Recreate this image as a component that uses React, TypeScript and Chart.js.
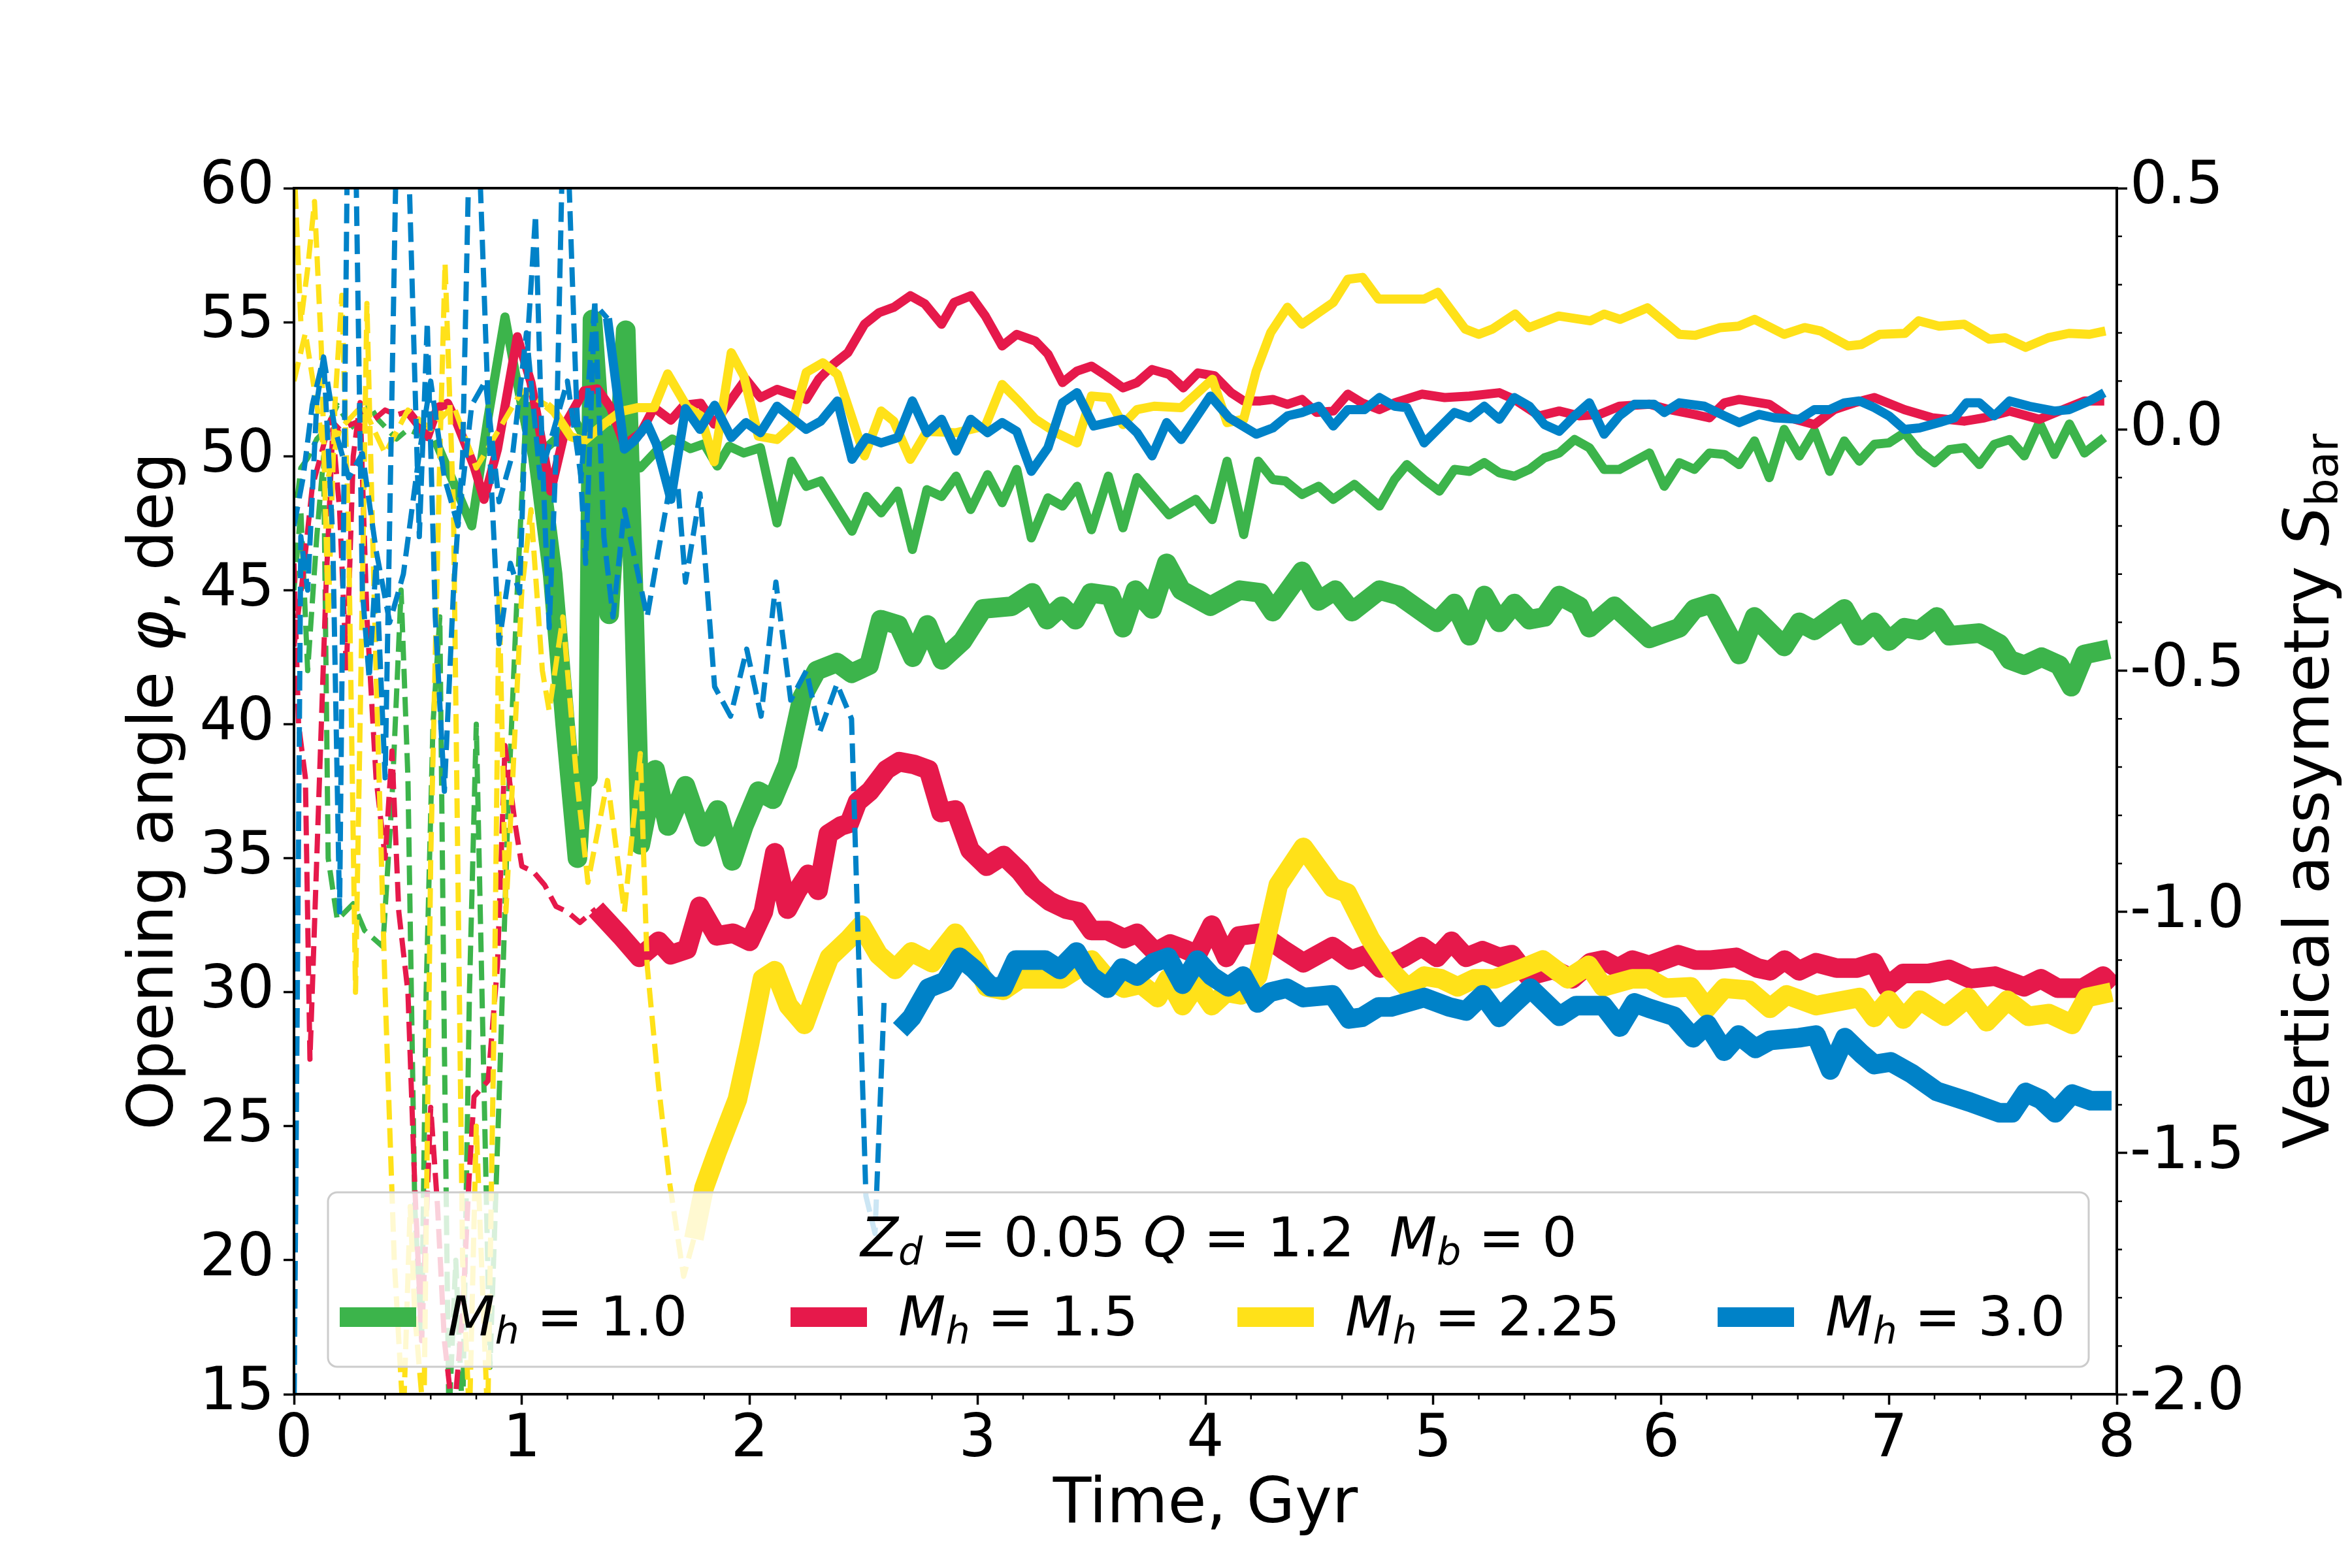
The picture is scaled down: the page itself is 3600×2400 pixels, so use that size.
import { useEffect, useRef } from 'react'
import { Chart, registerables } from 'chart.js'

Chart.register(...registerables)

// ---- data (time in Gyr) ----
// phi = opening angle (left axis), S = vertical asymmetry S_bar (right axis)
// "Dash" series are the early-time parts drawn with a thin dashed line

const MH_LABELS = ['1.0', '1.5', '2.25', '3.0']
const COLORS = ['#3cb44b', '#e6194b', '#ffe119', '#0082c8']

// M_h = 1.0 (green)
const G_PHI_DASH_T = [0, 0.03, 0.06, 0.1, 0.13, 0.15, 0.19, 0.26, 0.31, 0.39,
  0.43, 0.47, 0.5, 0.53, 0.56, 0.58, 0.61, 0.64, 0.66, 0.68,
  0.71, 0.74, 0.77, 0.8, 0.83, 0.86, 0.9, 0.94, 0.98, 1.02]
const G_PHI_DASH = [45, 48, 42, 47, 50, 35, 32.7, 33.3, 32.3, 31.7,
  37.2, 45, 38, 22, 17, 30, 40, 44, 28, 14,
  20, 14, 30, 40, 28, 16, 26, 37, 45, 52]
const G_PHI_T = [1.02, 1.07, 1.135, 1.19, 1.244, 1.27, 1.29, 1.31, 1.35, 1.383,
  1.42, 1.456, 1.49, 1.52, 1.585, 1.641, 1.718, 1.795, 1.859, 1.923,
  1.974, 2.038, 2.102, 2.166, 2.23, 2.294, 2.383, 2.447, 2.524, 2.575,
  2.652, 2.716, 2.78, 2.844, 2.934, 3.024, 3.15, 3.24, 3.305, 3.37,
  3.43, 3.497, 3.583, 3.638, 3.693, 3.766, 3.83, 3.894, 4.022, 4.15,
  4.241, 4.296, 4.424, 4.497, 4.57, 4.644, 4.764, 4.85, 5.016, 5.093,
  5.159, 5.224, 5.29, 5.356, 5.422, 5.488, 5.553, 5.641, 5.685, 5.795,
  5.949, 6.08, 6.146, 6.223, 6.343, 6.41, 6.54, 6.607, 6.673, 6.804,
  6.87, 6.936, 7.0, 7.068, 7.134, 7.21, 7.265, 7.397, 7.485, 7.53,
  7.594, 7.67, 7.748, 7.8, 7.858, 7.967]
const G_PHI = [52, 50, 45.6, 40, 35.0, 38.5, 38, 55.1, 50, 44.1,
  49, 54.7, 45, 35.5, 38.3, 36.2, 37.7, 35.8, 36.8, 34.9,
  36.2, 37.5, 37.2, 38.5, 41.0, 42.0, 42.3, 41.9, 42.2, 43.9,
  43.7, 42.5, 43.7, 42.4, 43.1, 44.3, 44.4, 44.9, 43.9, 44.4,
  43.9, 44.9, 44.8, 43.6, 45.0, 44.3, 46.0, 45.0, 44.4, 45.0,
  44.9, 44.2, 45.7, 44.6, 45.0, 44.2, 45.0, 44.8, 43.8, 44.5,
  43.3, 44.8, 43.8, 44.5, 43.9, 44.0, 44.8, 44.4, 43.6, 44.4,
  43.2, 43.6, 44.3, 44.5, 42.6, 44.0, 42.9, 43.8, 43.5, 44.3,
  43.3, 43.8, 43.1, 43.6, 43.5, 44.0, 43.3, 43.4, 43.0, 42.4,
  42.2, 42.5, 42.2, 41.4, 42.6, 42.8]
const G_S_DASH_T = [0, 0.03, 0.06, 0.1, 0.14, 0.19, 0.23, 0.27, 0.3, 0.33, 0.37, 0.41, 0.45, 0.5, 0.55, 0.62]
const G_S_DASH = [-0.2, -0.08, -0.06, -0.02, 0.0, 0.05, 0.02, 0.0, 0.03, 0.05, 0.02, 0.0, -0.02, 0.0, -0.01, -0.022]
const G_S_T = [0.62, 0.7, 0.78, 0.85, 0.926, 0.97, 1.02, 1.08, 1.15, 1.22,
  1.3, 1.38, 1.45, 1.52, 1.6, 1.66, 1.74, 1.8, 1.858, 1.91,
  1.974, 2.047, 2.12, 2.184, 2.248, 2.312, 2.449, 2.513, 2.577, 2.65,
  2.714, 2.778, 2.842, 2.906, 2.97, 3.044, 3.108, 3.172, 3.236, 3.309,
  3.373, 3.437, 3.5, 3.574, 3.638, 3.7, 3.84, 3.958, 4.03, 4.095,
  4.168, 4.232, 4.296, 4.351, 4.424, 4.497, 4.561, 4.654, 4.764, 4.83,
  4.884, 4.96, 5.027, 5.093, 5.159, 5.224, 5.29, 5.356, 5.422, 5.488,
  5.553, 5.62, 5.685, 5.75, 5.817, 5.949, 6.014, 6.08, 6.146, 6.212,
  6.278, 6.343, 6.41, 6.475, 6.54, 6.607, 6.673, 6.74, 6.804, 6.87,
  6.936, 7.0, 7.068, 7.134, 7.2, 7.265, 7.33, 7.397, 7.462, 7.53,
  7.594, 7.66, 7.726, 7.792, 7.858, 7.945]
const G_S = [-0.022, -0.11, -0.2, 0.02, 0.233, 0.12, 0.0, -0.05, -0.02, 0.03,
  -0.04, 0.0, -0.05, -0.08, -0.04, -0.02, -0.04, -0.03, -0.076, -0.035,
  -0.049, -0.038, -0.194, -0.066, -0.118, -0.107, -0.211, -0.139, -0.173, -0.128,
  -0.249, -0.125, -0.139, -0.097, -0.166, -0.094, -0.152, -0.083, -0.225, -0.142,
  -0.159, -0.118, -0.208, -0.097, -0.204, -0.1, -0.177, -0.145, -0.187, -0.066,
  -0.218, -0.066, -0.104, -0.107, -0.135, -0.118, -0.145, -0.114, -0.159, -0.104,
  -0.073, -0.104, -0.128, -0.083, -0.087, -0.069, -0.09, -0.097, -0.083, -0.059,
  -0.049, -0.021, -0.038, -0.083, -0.083, -0.049, -0.118, -0.069, -0.083, -0.049,
  -0.052, -0.073, -0.024, -0.1, 0.0, -0.055, -0.003, -0.087, -0.024, -0.066,
  -0.031, -0.028, -0.007, -0.045, -0.069, -0.042, -0.038, -0.073, -0.031, -0.021,
  -0.055, 0.014, -0.052, 0.011, -0.049, -0.017]

// M_h = 1.5 (red)
const R_PHI_DASH_T = [0, 0.02, 0.05, 0.07, 0.1, 0.14, 0.17, 0.2, 0.23, 0.26,
  0.29, 0.32, 0.36, 0.4, 0.43, 0.46, 0.5, 0.53, 0.56, 0.6,
  0.63, 0.66, 0.7, 0.74, 0.768, 0.79, 0.852, 0.893, 0.926, 0.97,
  1.0, 1.05, 1.1, 1.15, 1.2, 1.255, 1.31, 1.325]
const R_PHI_DASH = [46, 40, 38, 27.5, 35, 45, 51, 48, 42, 50,
  52, 44, 38, 35, 39, 33, 30, 22.8, 17, 25.7,
  22, 17, 14, 18, 23, 26.1, 26.7, 31, 39.2, 36.3,
  34.7, 34.5, 34, 33.2, 33, 32.6, 33.0, 33.1]
const R_PHI_T = [1.325, 1.434, 1.516, 1.6, 1.654, 1.725, 1.78, 1.855, 1.928, 2.0,
  2.06, 2.11, 2.166, 2.21, 2.257, 2.3, 2.345, 2.4, 2.437, 2.473,
  2.528, 2.6, 2.656, 2.72, 2.785, 2.84, 2.903, 2.967, 3.04, 3.114,
  3.187, 3.242, 3.315, 3.388, 3.443, 3.5, 3.57, 3.643, 3.7, 3.78,
  3.845, 3.909, 3.964, 4.028, 4.092, 4.147, 4.238, 4.339, 4.43, 4.558,
  4.64, 4.705, 4.768, 4.87, 4.95, 5.016, 5.08, 5.144, 5.216, 5.29,
  5.344, 5.417, 5.527, 5.61, 5.69, 5.746, 5.81, 5.874, 5.947, 6.075,
  6.15, 6.22, 6.33, 6.423, 6.478, 6.542, 6.606, 6.68, 6.77, 6.86,
  6.935, 6.99, 7.063, 7.173, 7.264, 7.356, 7.465, 7.593, 7.667, 7.74,
  7.85, 7.94, 7.986]
const R_PHI = [33.1, 32.1, 31.3, 31.9, 31.4, 31.6, 33.2, 32.1, 32.2, 31.9,
  33.0, 35.2, 33.1, 33.8, 34.4, 33.8, 35.9, 36.2, 36.3, 37.1,
  37.5, 38.3, 38.6, 38.5, 38.3, 36.7, 36.8, 35.3, 34.7, 35.1,
  34.5, 33.9, 33.4, 33.1, 33.0, 32.3, 32.3, 32.0, 32.2, 31.5,
  31.8, 31.6, 31.4, 32.5, 31.3, 32.1, 32.2, 31.6, 31.1, 31.7,
  31.2, 31.4, 30.9, 31.3, 31.7, 31.3, 31.9, 31.3, 31.55, 31.3,
  31.4, 30.6, 30.85, 30.5, 31.1, 31.2, 30.9, 31.2, 31.0, 31.4,
  31.2, 31.2, 31.3, 30.9, 30.8, 31.2, 30.8, 31.1, 30.9, 30.9,
  31.1, 30.2, 30.7, 30.7, 30.85, 30.5, 30.6, 30.2, 30.5, 30.15,
  30.15, 30.6, 30.2]
const R_S_DASH_T = [0, 0.04, 0.08, 0.12, 0.16, 0.2, 0.25, 0.3, 0.35, 0.4, 0.45, 0.5]
const R_S_DASH = [-0.45, -0.3, -0.12, -0.05, 0.02, 0.0, 0.01, 0.02, 0.02, 0.04, 0.03, 0.037]
const R_S_T = [0.5, 0.586, 0.63, 0.674, 0.717, 0.79, 0.834, 0.893, 0.98, 1.04,
  1.127, 1.2, 1.273, 1.332, 1.39, 1.45, 1.522, 1.58, 1.654, 1.712,
  1.785, 1.844, 1.919, 1.983, 2.047, 2.12, 2.184, 2.248, 2.303, 2.367,
  2.431, 2.504, 2.568, 2.632, 2.705, 2.769, 2.842, 2.897, 2.97, 3.034,
  3.108, 3.172, 3.254, 3.309, 3.373, 3.437, 3.5, 3.565, 3.638, 3.7,
  3.766, 3.84, 3.903, 3.967, 4.04, 4.113, 4.168, 4.241, 4.296, 4.36,
  4.424, 4.488, 4.561, 4.625, 4.687, 4.764, 4.83, 4.95, 5.05, 5.159,
  5.29, 5.356, 5.466, 5.553, 5.641, 5.73, 5.817, 5.949, 6.036, 6.146,
  6.212, 6.278, 6.343, 6.475, 6.563, 6.673, 6.76, 6.848, 6.936, 7.068,
  7.19, 7.33, 7.419, 7.53, 7.66, 7.748, 7.858, 7.945]
const R_S = [0.037, -0.015, 0.045, 0.054, 0.011, -0.076, -0.145, -0.041, 0.192, 0.097,
  -0.128, 0.019, 0.08, 0.084, 0.045, -0.032, -0.007, 0.045, 0.019, 0.05,
  0.054, 0.011, 0.062, 0.104, 0.066, 0.083, 0.073, 0.062, 0.104, 0.135,
  0.159, 0.218, 0.242, 0.253, 0.277, 0.26, 0.218, 0.263, 0.277, 0.235,
  0.173, 0.197, 0.183, 0.156, 0.097, 0.121, 0.131, 0.111, 0.086, 0.097,
  0.124, 0.114, 0.086, 0.117, 0.111, 0.076, 0.059, 0.059, 0.062, 0.052,
  0.062, 0.035, 0.038, 0.073, 0.055, 0.041, 0.055, 0.073, 0.066, 0.069,
  0.076, 0.062, 0.028, 0.038, 0.028, 0.031, 0.048, 0.052, 0.041, 0.031,
  0.024, 0.055, 0.062, 0.052, 0.024, 0.01, 0.041, 0.055, 0.066, 0.041,
  0.024, 0.017, 0.024, 0.038, 0.021, 0.038, 0.059, 0.059]

// M_h = 2.25 (yellow)
const Y_PHI_DASH_T = [0, 0.03, 0.06, 0.09, 0.12, 0.15, 0.18, 0.21, 0.24, 0.27,
  0.3, 0.32, 0.36, 0.4, 0.44, 0.48, 0.51, 0.53, 0.57, 0.6,
  0.64, 0.663, 0.7, 0.74, 0.77, 0.8, 0.85, 0.88, 0.9, 0.93,
  0.96, 1.0, 1.04, 1.09, 1.12, 1.18, 1.24, 1.29, 1.376, 1.45,
  1.52, 1.55, 1.6, 1.65, 1.71, 1.755]
const Y_PHI_DASH = [61, 55, 57, 59.5, 54, 44, 52, 56, 47, 30,
  45, 55.7, 42, 30, 20, 14, 22, 18, 14, 35,
  50, 57.2, 48, 20, 14, 25, 14, 30, 45, 33,
  38, 45, 48, 42, 40.5, 44, 38, 34.1, 37.9, 33,
  38.9, 31, 26.5, 22.8, 19.4, 20.8]
const Y_PHI_T = [1.755, 1.8, 1.855, 1.946, 2.0, 2.056, 2.11, 2.17, 2.24, 2.3,
  2.35, 2.437, 2.49, 2.565, 2.638, 2.71, 2.8, 2.903, 2.985, 3.04,
  3.114, 3.187, 3.278, 3.37, 3.5, 3.57, 3.643, 3.717, 3.79, 3.836,
  3.9, 3.964, 4.028, 4.092, 4.156, 4.23, 4.32, 4.43, 4.558, 4.622,
  4.723, 4.815, 4.888, 4.96, 5.034, 5.107, 5.18, 5.271, 5.38, 5.481,
  5.59, 5.682, 5.746, 5.874, 5.947, 6.02, 6.13, 6.2, 6.277, 6.386,
  6.478, 6.551, 6.68, 6.807, 6.871, 6.935, 6.999, 7.063, 7.136, 7.246,
  7.347, 7.429, 7.52, 7.612, 7.703, 7.804, 7.868, 7.977]
const Y_PHI = [20.8, 22.7, 24.0, 26.0, 28.1, 30.5, 30.8, 29.5, 28.8, 30.2,
  31.3, 32.0, 32.5, 31.4, 30.85, 31.5, 31.1, 32.2, 31.2, 30.2,
  30.07, 30.5, 30.5, 30.5, 31.2, 30.5, 30.15, 30.3, 29.8, 30.5,
  29.5, 30.3, 29.5, 30.0, 29.9, 30.6, 34.0, 35.4, 33.9, 33.7,
  32.0, 30.8, 30.15, 30.6, 30.5, 30.2, 30.5, 30.5, 30.85, 31.2,
  30.5, 31.0, 30.2, 30.5, 30.5, 30.15, 30.2, 29.4, 30.15, 30.07,
  29.4, 29.9, 29.5, 29.7, 29.8, 29.06, 29.7, 29.0, 29.7, 29.1,
  29.8, 28.9, 29.7, 29.1, 29.2, 28.8, 29.8, 30.0]
const Y_S_DASH_T = [0, 0.05, 0.1, 0.15, 0.2, 0.3, 0.4, 0.5, 0.6, 0.7, 0.8, 0.9, 1.0, 1.11]
const Y_S_DASH = [0.1, 0.2, 0.05, -0.1, 0.0, 0.05, -0.05, 0.04, 0.0, 0.05, -0.08, 0.0, 0.08, 0.05]
const Y_S_T = [1.11, 1.142, 1.215, 1.273, 1.36, 1.434, 1.507, 1.58, 1.64, 1.727,
  1.785, 1.844, 1.919, 1.974, 2.038, 2.12, 2.184, 2.248, 2.321, 2.385,
  2.504, 2.577, 2.632, 2.705, 2.778, 2.906, 3.034, 3.108, 3.18, 3.254,
  3.345, 3.437, 3.5, 3.574, 3.638, 3.7, 3.775, 3.894, 4.031, 4.095,
  4.168, 4.223, 4.287, 4.36, 4.424, 4.497, 4.561, 4.625, 4.69, 4.76,
  4.85, 4.96, 5.02, 5.14, 5.2, 5.26, 5.36, 5.42, 5.55, 5.69,
  5.75, 5.82, 5.94, 6.08, 6.15, 6.26, 6.34, 6.41, 6.54, 6.63,
  6.7, 6.82, 6.88, 6.96, 7.07, 7.13, 7.22, 7.33, 7.44, 7.51,
  7.6, 7.7, 7.79, 7.88, 7.95]
const Y_S = [0.05, 0.037, -0.015, -0.024, 0.011, 0.037, 0.045, 0.045, 0.115, 0.045,
  0.028, -0.067, 0.159, 0.111, -0.014, -0.021, 0.007, 0.118, 0.138, 0.114,
  -0.055, 0.038, 0.017, -0.062, -0.004, -0.007, 0.007, 0.093, 0.059, 0.021,
  -0.007, -0.028, 0.069, 0.066, 0.01, 0.041, 0.048, 0.045, 0.104, 0.014,
  0.021, 0.121, 0.201, 0.253, 0.218, 0.242, 0.263, 0.311, 0.315, 0.27,
  0.27, 0.27, 0.284, 0.208, 0.197, 0.208, 0.239, 0.211, 0.235, 0.225,
  0.239, 0.228, 0.252, 0.197, 0.195, 0.211, 0.214, 0.228, 0.197, 0.211,
  0.204, 0.173, 0.176, 0.197, 0.199, 0.225, 0.214, 0.218, 0.187, 0.19,
  0.17, 0.19, 0.199, 0.197, 0.204]

// M_h = 3.0 (blue)
const B_PHI_DASH_T = [0, 0.03, 0.06, 0.1, 0.13, 0.17, 0.2, 0.235, 0.27, 0.3,
  0.33, 0.36, 0.4, 0.45, 0.5, 0.55, 0.585, 0.62, 0.66, 0.7,
  0.74, 0.77, 0.81, 0.86, 0.9, 0.95, 0.99, 1.03, 1.06, 1.09,
  1.12, 1.15, 1.18, 1.2, 1.24, 1.28, 1.32, 1.36, 1.4, 1.45,
  1.5, 1.55, 1.6, 1.65, 1.686, 1.718, 1.782, 1.846, 1.916, 1.987,
  2.05, 2.115, 2.18, 2.249, 2.307, 2.383, 2.447, 2.51, 2.55, 2.59]
const B_PHI_DASH = [14, 47, 45, 52, 53.7, 47, 33, 62, 62, 45,
  41.7, 46, 38, 62, 62, 47, 55, 44, 37.5, 45,
  50, 62, 62, 50, 43, 46, 44.9, 55, 59, 50,
  43.6, 50, 62, 62, 52, 46, 55.8, 47, 44, 48,
  46, 44, 46.5, 48.9, 48.8, 45.3, 48.6, 41.4, 40.3, 42.8,
  40.3, 45.3, 40.9, 42.0, 39.7, 41.5, 40.2, 22.4, 21, 29.7]
const B_PHI_T = [2.66, 2.711, 2.784, 2.858, 2.922, 2.986, 3.059, 3.114, 3.168, 3.297,
  3.36, 3.434, 3.497, 3.57, 3.635, 3.7, 3.772, 3.836, 3.9, 3.964,
  4.028, 4.1, 4.165, 4.229, 4.284, 4.357, 4.43, 4.558, 4.63, 4.686,
  4.76, 4.815, 4.96, 5.07, 5.144, 5.217, 5.29, 5.344, 5.426, 5.554,
  5.627, 5.746, 5.819, 5.883, 5.947, 6.057, 6.14, 6.203, 6.277, 6.34,
  6.414, 6.478, 6.606, 6.68, 6.743, 6.807, 6.88, 6.935, 7.008, 7.1,
  7.21, 7.355, 7.484, 7.54, 7.6, 7.667, 7.73, 7.804, 7.886, 7.977]
const B_PHI = [28.6, 29.06, 30.15, 30.4, 31.3, 30.85, 30.2, 30.2, 31.2, 31.2,
  30.85, 31.5, 30.6, 30.15, 30.9, 30.6, 31.1, 31.3, 30.3, 31.2,
  30.6, 30.2, 30.6, 29.6, 30.0, 30.15, 29.8, 29.9, 29.0, 29.06,
  29.45, 29.45, 29.8, 29.45, 29.3, 29.9, 29.06, 29.5, 30.15, 29.1,
  29.5, 29.5, 28.7, 29.6, 29.4, 29.1, 28.3, 28.8, 27.8, 28.4,
  27.9, 28.2, 28.3, 28.4, 27.1, 28.3, 27.7, 27.3, 27.4, 26.96,
  26.3, 25.9, 25.5, 25.5, 26.26, 26.0, 25.5, 26.2, 25.95, 25.95]
const B_S_DASH_T = [0, 0.04, 0.08, 0.13, 0.18, 0.24, 0.3, 0.36, 0.42, 0.48,
  0.55, 0.6, 0.66, 0.72, 0.78, 0.84, 0.9, 0.96, 1.02, 1.08,
  1.14, 1.2, 1.26, 1.32, 1.376]
const B_S_DASH = [-0.2, -0.1, 0.05, 0.15, 0.0, -0.1, -0.05, -0.25, -0.4, -0.3,
  -0.05, 0.1, -0.1, -0.2, 0.05, 0.1, -0.15, -0.05, 0.2, -0.1,
  0.0, 0.1, -0.1, 0.26, 0.23]
const B_S_T = [1.376, 1.45, 1.493, 1.551, 1.59, 1.654, 1.718, 1.782, 1.846, 1.919,
  1.983, 2.047, 2.12, 2.184, 2.248, 2.312, 2.385, 2.449, 2.513, 2.577,
  2.65, 2.714, 2.778, 2.842, 2.906, 2.97, 3.044, 3.108, 3.172, 3.236,
  3.309, 3.373, 3.437, 3.51, 3.638, 3.7, 3.766, 3.83, 3.894, 4.022,
  4.104, 4.223, 4.296, 4.36, 4.424, 4.497, 4.561, 4.625, 4.698, 4.764,
  4.83, 4.884, 4.96, 5.093, 5.159, 5.224, 5.29, 5.356, 5.422, 5.488,
  5.553, 5.62, 5.685, 5.75, 5.817, 5.883, 5.97, 6.014, 6.08, 6.19,
  6.278, 6.343, 6.43, 6.497, 6.607, 6.673, 6.74, 6.804, 6.87, 6.936,
  7.0, 7.068, 7.134, 7.22, 7.287, 7.34, 7.397, 7.462, 7.53, 7.616,
  7.726, 7.792, 7.88, 7.945]
const B_S = [0.23, -0.041, -0.024, 0.011, -0.03, -0.145, 0.043, 0.0, 0.05, -0.017,
  0.014, -0.007, 0.048, 0.024, 0.0, 0.017, 0.059, -0.062, -0.017, -0.028,
  -0.017, 0.059, -0.007, 0.021, -0.045, 0.021, -0.007, 0.014, -0.004, -0.087,
  -0.038, 0.055, 0.076, 0.007, 0.021, -0.007, -0.055, 0.014, -0.021, 0.069,
  0.024, -0.01, 0.003, 0.028, 0.035, 0.048, 0.007, 0.041, 0.041, 0.066,
  0.048, 0.045, -0.028, 0.035, 0.024, 0.048, 0.021, 0.066, 0.048, 0.01,
  -0.004, 0.028, 0.055, -0.01, 0.028, 0.052, 0.052, 0.035, 0.055, 0.048,
  0.028, 0.014, 0.031, 0.024, 0.021, 0.041, 0.041, 0.055, 0.059, 0.045,
  0.028, 0.0, 0.003, 0.014, 0.024, 0.055, 0.055, 0.028, 0.059, 0.048,
  0.038, 0.041, 0.059, 0.076]

const MODELS = [
  { phiDash: [G_PHI_DASH_T, G_PHI_DASH], phi: [G_PHI_T, G_PHI], sDash: [G_S_DASH_T, G_S_DASH], s: [G_S_T, G_S] },
  { phiDash: [R_PHI_DASH_T, R_PHI_DASH], phi: [R_PHI_T, R_PHI], sDash: [R_S_DASH_T, R_S_DASH], s: [R_S_T, R_S] },
  { phiDash: [Y_PHI_DASH_T, Y_PHI_DASH], phi: [Y_PHI_T, Y_PHI], sDash: [Y_S_DASH_T, Y_S_DASH], s: [Y_S_T, Y_S] },
  { phiDash: [B_PHI_DASH_T, B_PHI_DASH], phi: [B_PHI_T, B_PHI], sDash: [B_S_DASH_T, B_S_DASH], s: [B_S_T, B_S] },
]

// ---- styling ----
const FAMILY = '"DejaVu Sans", sans-serif'
const TICK_SIZE = 90
const TITLE_SIZE = 96
const LEGEND_SIZE = 84
const THICK = 30
const THIN = 14
const DASHED = 8
const DASH = [30, 13]

type Piece = { t: string; it?: boolean; sub?: boolean }

function pieceFont(p: Piece, size: number) {
  const s = p.sub ? size * 0.7 : size
  return `${p.it ? 'italic ' : ''}${s}px ${FAMILY}`
}

function measurePieces(ctx: CanvasRenderingContext2D, pieces: Piece[], size: number) {
  let w = 0
  for (const p of pieces) {
    ctx.font = pieceFont(p, size)
    w += ctx.measureText(p.t).width
  }
  return w
}

function drawPieces(ctx: CanvasRenderingContext2D, pieces: Piece[], x: number, y: number, size: number) {
  let cx = x
  ctx.textAlign = 'left'
  ctx.textBaseline = 'alphabetic'
  for (const p of pieces) {
    ctx.font = pieceFont(p, size)
    ctx.fillText(p.t, cx, y + (p.sub ? size * 0.15 : 0))
    cx += ctx.measureText(p.t).width
  }
}

const LEGEND_TITLE: Piece[] = [
  { t: 'Z', it: true }, { t: 'd', it: true, sub: true }, { t: ' = 0.05 ' },
  { t: 'Q', it: true }, { t: ' = 1.2  ' },
  { t: 'M', it: true }, { t: 'b', it: true, sub: true }, { t: ' = 0' },
]
const LEGEND_SWATCH_X = [70, 760, 1444, 2179]

const decor = {
  id: 'decor',
  afterDatasetsDraw(chart: any) {
    const { ctx, chartArea: a } = chart
    const boxL = a.left + 52
    const boxR = a.right - 43
    const boxB = a.bottom - 42
    const boxT = boxB - 267
    ctx.save()
    ctx.beginPath()
    ctx.roundRect(boxL, boxT, boxR - boxL, boxB - boxT, 14)
    ctx.fillStyle = 'rgba(255,255,255,0.8)'
    ctx.fill()
    ctx.lineWidth = 3
    ctx.strokeStyle = '#cccccc'
    ctx.stroke()

    ctx.fillStyle = '#000'
    const tw = measurePieces(ctx, LEGEND_TITLE, LEGEND_SIZE)
    drawPieces(ctx, LEGEND_TITLE, (boxL + boxR) / 2 + 16 - tw / 2, boxT + 98, LEGEND_SIZE)

    MH_LABELS.forEach((lab, i) => {
      const x0 = a.left + LEGEND_SWATCH_X[i]
      ctx.beginPath()
      ctx.lineCap = 'butt'
      ctx.lineWidth = THICK
      ctx.strokeStyle = COLORS[i]
      ctx.moveTo(x0, boxT + 191)
      ctx.lineTo(x0 + 117, boxT + 191)
      ctx.stroke()
      ctx.fillStyle = '#000'
      drawPieces(ctx, [{ t: 'M', it: true }, { t: 'h', it: true, sub: true }, { t: ' = ' + lab }], x0 + 117 + 48, boxT + 219, LEGEND_SIZE)
    })
    ctx.restore()
  },
  afterDraw(chart: any) {
    const { ctx, chartArea: a, scales } = chart
    ctx.save()
    // frame
    ctx.strokeStyle = '#000'
    ctx.lineWidth = 4
    ctx.strokeRect(a.left, a.top, a.right - a.left, a.bottom - a.top)

    // minor ticks
    ctx.lineWidth = 2.5
    ctx.beginPath()
    for (let k = 1; k < 40; k++) {
      if (k % 5 === 0) continue
      const x = scales.x.getPixelForValue(k * 0.2)
      ctx.moveTo(x, a.bottom)
      ctx.lineTo(x, a.bottom + 8)
    }
    for (let k = -20; k <= 5; k++) {
      if (k % 5 === 0) continue
      const y = scales.y1.getPixelForValue(k / 10)
      ctx.moveTo(a.right, y)
      ctx.lineTo(a.right + 8, y)
    }
    ctx.stroke()

    // axis titles
    ctx.fillStyle = '#000'
    const xt: Piece[] = [{ t: 'Time, Gyr' }]
    const xw = measurePieces(ctx, xt, TITLE_SIZE)
    drawPieces(ctx, xt, (a.left + a.right) / 2 - xw / 2, a.bottom + 196, TITLE_SIZE)

    const midY = (a.top + a.bottom) / 2
    const lt: Piece[] = [{ t: 'Opening angle ' }, { t: 'φ', it: true }, { t: ', deg' }]
    const lw = measurePieces(ctx, lt, TITLE_SIZE)
    ctx.save()
    ctx.translate(264, midY)
    ctx.rotate(-Math.PI / 2)
    drawPieces(ctx, lt, -lw / 2, 0, TITLE_SIZE)
    ctx.restore()

    const rt: Piece[] = [{ t: 'Vertical assymetry ' }, { t: 'S', it: true }, { t: 'bar', sub: true }]
    const rw = measurePieces(ctx, rt, TITLE_SIZE)
    ctx.save()
    ctx.translate(3564, midY)
    ctx.rotate(-Math.PI / 2)
    drawPieces(ctx, rt, -rw / 2, 0, TITLE_SIZE)
    ctx.restore()
    ctx.restore()
  },
}

function points(t: number[], v: number[]) {
  const n = Math.min(t.length, v.length)
  const out: { x: number; y: number }[] = []
  for (let i = 0; i < n; i++) out.push({ x: t[i], y: v[i] })
  return out
}

function buildDatasets() {
  const ds: any[] = []
  MODELS.forEach((m, i) => {
    const color = COLORS[i]
    const order = (4 - i) * 10
    const common = { borderColor: color, backgroundColor: color, pointRadius: 0, tension: 0, clip: 0, fill: false, borderJoinStyle: 'round' }
    ds.push({ ...common, label: `phi ${MH_LABELS[i]}`, data: points(m.phi[0], m.phi[1]), yAxisID: 'y', borderWidth: THICK, order })
    ds.push({ ...common, label: `S ${MH_LABELS[i]}`, data: points(m.s[0], m.s[1]), yAxisID: 'y1', borderWidth: THIN, order: order + 1 })
    ds.push({ ...common, label: `phi early ${MH_LABELS[i]}`, data: points(m.phiDash[0], m.phiDash[1]), yAxisID: 'y', borderWidth: DASHED, borderDash: DASH, order: order + 2 })
    ds.push({ ...common, label: `S early ${MH_LABELS[i]}`, data: points(m.sDash[0], m.sDash[1]), yAxisID: 'y1', borderWidth: DASHED, borderDash: DASH, order: order + 3 })
  })
  return ds
}

const tickFont = { family: FAMILY, size: TICK_SIZE }
const tickGrid = { drawOnChartArea: false, drawTicks: true, tickLength: 16, tickWidth: 3.5, tickColor: '#000' }

export default function App() {
  const canvasRef = useRef<HTMLCanvasElement>(null)

  useEffect(() => {
    if (!canvasRef.current) return
    const chart = new Chart(canvasRef.current, {
      type: 'line',
      data: { datasets: buildDatasets() },
      options: {
        animation: false,
        responsive: true,
        maintainAspectRatio: false,
        devicePixelRatio: 1,
        layout: { padding: { top: 288, left: 0, right: 0, bottom: 0 } },
        plugins: { legend: { display: false }, tooltip: { enabled: false } },
        scales: {
          x: {
            type: 'linear',
            min: 0,
            max: 8,
            afterFit: (s: any) => { s.height = 266 },
            ticks: { stepSize: 1, font: tickFont, color: '#000', padding: 2, maxRotation: 0, autoSkip: false, callback: (v: any) => String(v) },
            grid: tickGrid,
            border: { display: false },
          },
          y: {
            type: 'linear',
            position: 'left',
            min: 15,
            max: 60,
            afterFit: (s: any) => { s.width = 450 },
            ticks: { stepSize: 5, font: tickFont, color: '#000', padding: 14, autoSkip: false },
            grid: tickGrid,
            border: { display: false },
          },
          y1: {
            type: 'linear',
            position: 'right',
            min: -2,
            max: 0.5,
            afterFit: (s: any) => { s.width = 360 },
            ticks: { stepSize: 0.5, font: tickFont, color: '#000', padding: 4, autoSkip: false, callback: (v: any) => Number(v).toFixed(1) },
            grid: tickGrid,
            border: { display: false },
          },
        },
      },
      plugins: [decor],
    } as any)

    return () => {
      chart.destroy()
    }
  }, [])

  return (
    <div style={{ position: 'absolute', left: 0, top: 0, width: 3600, height: 2400, background: '#fff' }}>
      <canvas ref={canvasRef} />
    </div>
  )
}
